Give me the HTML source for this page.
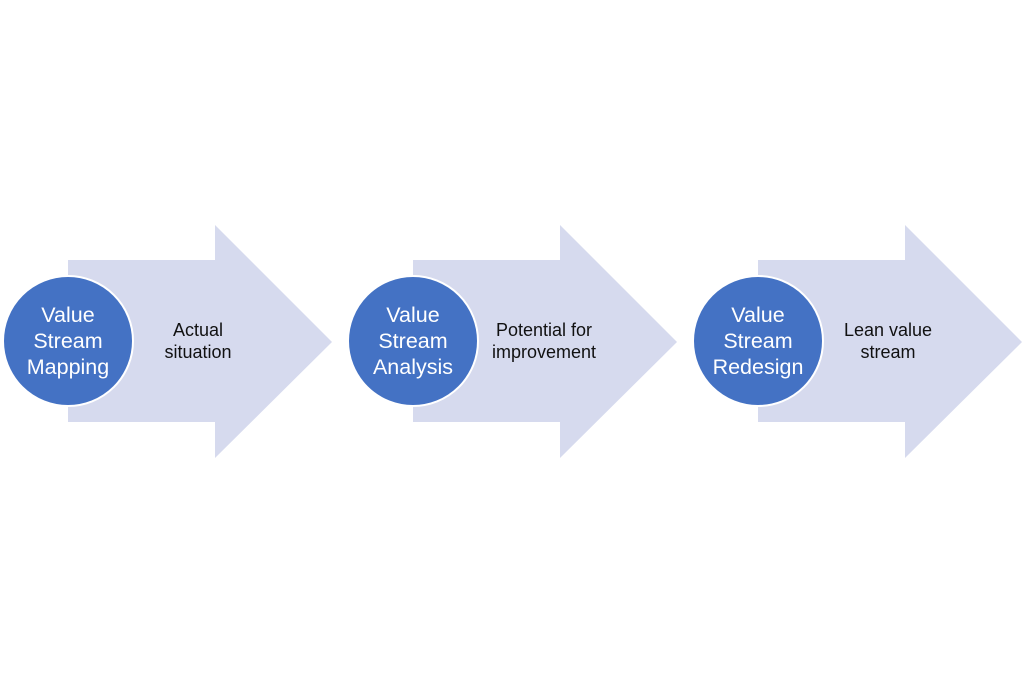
<!DOCTYPE html>
<html>
<head>
<meta charset="utf-8">
<style>
html,body{margin:0;padding:0;background:#fff;}
svg{display:block;}
text{font-family:"Liberation Sans",sans-serif;}
</style>
</head>
<body>
<svg width="1024" height="683" viewBox="0 0 1024 683" xmlns="http://www.w3.org/2000/svg">
  <rect width="1024" height="683" fill="#ffffff"/>
  <g id="a1">
    <polygon points="68,260 215,260 215,225 332,342 215,458 215,422 68,422" fill="#D6DAEE"/>
    <circle cx="68" cy="341" r="65" fill="#4472C4" stroke="#ffffff" stroke-width="2"/>
    <g fill="#ffffff" font-size="21.5" text-anchor="middle">
      <text x="68" y="322">Value</text>
      <text x="68" y="348">Stream</text>
      <text x="68" y="374">Mapping</text>
    </g>
    <g fill="#111111" font-size="18" text-anchor="middle">
      <text x="198" y="336">Actual</text>
      <text x="198" y="358">situation</text>
    </g>
  </g>
  <g id="a2">
    <polygon points="413,260 560,260 560,225 677,342 560,458 560,422 413,422" fill="#D6DAEE"/>
    <circle cx="413" cy="341" r="65" fill="#4472C4" stroke="#ffffff" stroke-width="2"/>
    <g fill="#ffffff" font-size="21.5" text-anchor="middle">
      <text x="413" y="322">Value</text>
      <text x="413" y="348">Stream</text>
      <text x="413" y="374">Analysis</text>
    </g>
    <g fill="#111111" font-size="18" text-anchor="middle">
      <text x="544" y="336">Potential for</text>
      <text x="544" y="358">improvement</text>
    </g>
  </g>
  <g id="a3">
    <polygon points="758,260 905,260 905,225 1022,342 905,458 905,422 758,422" fill="#D6DAEE"/>
    <circle cx="758" cy="341" r="65" fill="#4472C4" stroke="#ffffff" stroke-width="2"/>
    <g fill="#ffffff" font-size="21.5" text-anchor="middle">
      <text x="758" y="322">Value</text>
      <text x="758" y="348">Stream</text>
      <text x="758" y="374">Redesign</text>
    </g>
    <g fill="#111111" font-size="18" text-anchor="middle">
      <text x="888" y="336">Lean value</text>
      <text x="888" y="358">stream</text>
    </g>
  </g>
</svg>
</body>
</html>
